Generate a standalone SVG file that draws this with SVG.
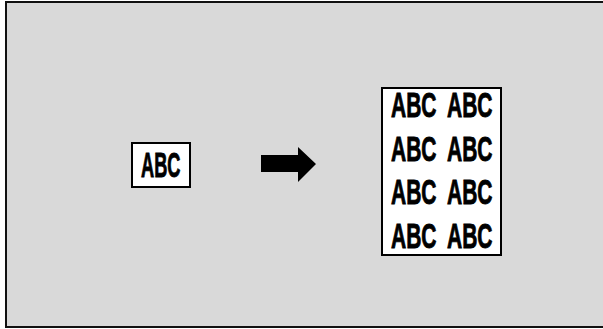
<svg xmlns="http://www.w3.org/2000/svg" width="603" height="329" viewBox="0 0 603 329">
<style>
.t{font-family:"Liberation Sans",Arial,sans-serif;font-weight:bold;font-size:35px;fill:#000;stroke:#000;stroke-width:0.9}
.box{fill:#fff;stroke:#000;stroke-width:2}
</style>
<rect x="0" y="0" width="603" height="329" fill="#fff"/>
<rect id="frame" x="6" y="2" width="598" height="325" fill="#d9d9d9" stroke="#111" stroke-width="2"/>
<g id="source">
<rect class="box" x="132" y="143" width="58" height="44"/>
<text class="t" transform="matrix(0.52,0,0,1,141,177)">ABC</text>
</g>
<g id="connectors">
<polygon points="261,155 298,155 298,147 316,164 298,182 298,172 261,172" fill="#000"/>
</g>
<g id="result">
<rect class="box" x="382" y="88" width="119" height="167"/>
<text class="t" transform="matrix(0.6,0,0,1,391,117)">ABC</text>
<text class="t" transform="matrix(0.6,0,0,1,447,117)">ABC</text>
<text class="t" transform="matrix(0.6,0,0,1,391,161)">ABC</text>
<text class="t" transform="matrix(0.6,0,0,1,447,161)">ABC</text>
<text class="t" transform="matrix(0.6,0,0,1,391,204)">ABC</text>
<text class="t" transform="matrix(0.6,0,0,1,447,204)">ABC</text>
<text class="t" transform="matrix(0.6,0,0,1,391,248)">ABC</text>
<text class="t" transform="matrix(0.6,0,0,1,447,248)">ABC</text>
</g>
</svg>
